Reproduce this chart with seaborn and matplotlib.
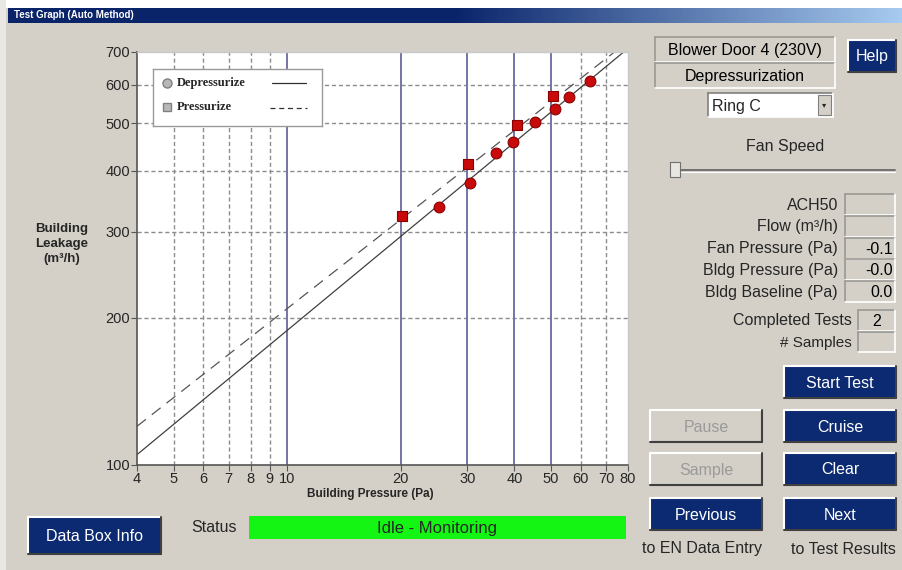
import numpy as np
import pandas as pd
import matplotlib
matplotlib.use("Agg")
import matplotlib.pyplot as plt
from matplotlib.patches import Rectangle
from matplotlib.ticker import NullLocator
import seaborn as sns

# measured points (Pa, m3/h)
depress_pa = [25.2, 30.6, 35.8, 39.6, 45.3, 51.4, 55.7, 63.4]
depress_flow = [337, 378, 434, 457, 504, 536, 565, 611]
press_pa = [20.1, 30.1, 40.6, 50.7]
press_flow = [323, 412, 496, 568]

# fitted lines, end points on log-log axes
fit_pa = [4, 80]
fit_depress = [105, 712]
fit_press = [120, 736]

x_ticks = [4, 5, 6, 7, 8, 9, 10, 20, 30, 40, 50, 60, 70, 80]
y_ticks = [100, 200, 300, 400, 500, 600, 700]
solid_grid = [10, 20, 30, 40, 50]
dash_grid_x = [5, 6, 7, 8, 9, 60, 70]
dash_grid_y = [200, 300, 400, 500, 600]

readouts = ["ACH50", "Flow (m\u00b3/h)", "Fan Pressure (Pa)", "Bldg Pressure (Pa)", "Bldg Baseline (Pa)"]
readout_values = ["", "", "-0.1", "-0.0", "0.0"]

sns.set_theme(style="white")
plt.rcParams["font.family"] = ["Liberation Sans", "DejaVu Sans"]

GRAY = "#d4d0c8"
NAVY = "#0c2a72"
W, H = 902, 570
FS = 11.5

fig = plt.figure(figsize=(W / 100, H / 100), dpi=100, facecolor=GRAY)

# background layer in pixel coordinates
bg = fig.add_axes([0, 0, 1, 1], zorder=0)
bg.set_xlim(0, W)
bg.set_ylim(H, 0)
bg.axis("off")
bg.add_patch(Rectangle((0, 0), W, 8, fc="white", ec="none"))
bg.add_patch(Rectangle((0, 0), 6, H, fc="#eae8e4", ec="none"))
grad = np.linspace(0, 1, 256)[None, :]
cmap = matplotlib.colors.LinearSegmentedColormap.from_list("tb", ["#0a246a", "#0a246a", "#a6caf0"])
bg.imshow(grad, extent=[8, W, 23, 8], aspect="auto", cmap=cmap, zorder=1)
bg.text(14, 15.5, "Test Graph (Auto Method)", color="white", fontsize=7, fontweight="bold",
        va="center", ha="left", zorder=2)


def bevel(x0, y0, x1, y1, light="white", dark="#404040", lw=1.5):
    bg.plot([x0, x1], [y0, y0], color=light, lw=lw, zorder=3)
    bg.plot([x0, x0], [y0, y1], color=light, lw=lw, zorder=3)
    bg.plot([x0, x1], [y1, y1], color=dark, lw=lw, zorder=3)
    bg.plot([x1, x1], [y0, y1], color=dark, lw=lw, zorder=3)


def button(x0, y0, x1, y1, label, enabled=True, size=FS):
    bg.add_patch(Rectangle((x0, y0), x1 - x0, y1 - y0, fc=NAVY if enabled else GRAY, ec="none", zorder=2))
    bevel(x0, y0, x1, y1)
    bg.text((x0 + x1) / 2, (y0 + y1) / 2 + 1, label, color="white" if enabled else "#9a9a9a",
            fontsize=size, ha="center", va="center", zorder=4)


def field(x0, y0, x1, y1, value="", face=GRAY, ha="right", size=FS):
    bg.add_patch(Rectangle((x0, y0), x1 - x0, y1 - y0, fc=face, ec="none", zorder=2))
    bevel(x0, y0, x1, y1, light="#9a9894", dark="white", lw=1.2)
    if value:
        tx = x1 - 2 if ha == "right" else (x0 + x1) / 2
        bg.text(tx, (y0 + y1) / 2 + 1, value, fontsize=size, ha=ha, va="center", color="black", zorder=4)


# right panel
field(655, 37, 835, 62, "Blower Door 4 (230V)", ha="center")
field(655, 63, 835, 88, "Depressurization", ha="center")
button(848, 40, 896, 72, "Help")
bg.add_patch(Rectangle((708, 93), 125, 24, fc="white", ec="none", zorder=2))
bevel(708, 93, 833, 117, light="#808080", dark="white", lw=1.2)
bg.text(712, 106, "Ring C", fontsize=FS, ha="left", va="center", zorder=4)
bg.add_patch(Rectangle((818, 95), 13, 20, fc=GRAY, ec="#808080", lw=0.8, zorder=4))
bg.text(824.5, 106, "\u25be", fontsize=6, ha="center", va="center", zorder=5)
bg.text(785, 146, "Fan Speed", fontsize=FS, ha="center", va="center", zorder=4)
bg.plot([672, 895], [170, 170], color="#606060", lw=1.2, zorder=3)
bg.plot([672, 895], [171.5, 171.5], color="white", lw=0.8, zorder=3)
bg.add_patch(Rectangle((670, 162), 10, 15, fc="#e8e6e0", ec="#707070", lw=0.8, zorder=4))

row_y = [193, 215, 237, 258, 280]
for lab, val, y0 in zip(readouts, readout_values, row_y):
    bg.text(838, y0 + 12, lab, fontsize=FS, ha="right", va="center", zorder=4)
    field(845, y0 + 1, 895, y0 + 22, val)
bg.text(852, 321, "Completed Tests", fontsize=FS, ha="right", va="center", zorder=4)
field(858, 310, 895, 331, "2", ha="center")
bg.text(852, 343, "# Samples", fontsize=FS - 0.5, ha="right", va="center", zorder=4)
field(858, 332, 895, 352)

button(784, 366, 896, 398, "Start Test")
button(650, 410, 762, 442, "Pause", enabled=False)
button(784, 410, 896, 442, "Cruise")
button(650, 453, 762, 485, "Sample", enabled=False)
button(784, 453, 896, 485, "Clear")
button(650, 498, 762, 530, "Previous")
button(784, 498, 896, 530, "Next")
bg.text(702, 549, "to EN Data Entry", fontsize=FS, ha="center", va="center", zorder=4)
bg.text(843, 549, "to Test Results", fontsize=FS, ha="center", va="center", zorder=4)

button(28, 517, 161, 554, "Data Box Info")
bg.text(214, 527, "Status", fontsize=FS, ha="center", va="center", zorder=4)
bg.add_patch(Rectangle((249, 516), 377, 23, fc="#14f514", ec="none", zorder=2))
bg.text(437, 528, "Idle - Monitoring", fontsize=FS + 0.5, ha="center", va="center", zorder=4)

# main graph
ax = fig.add_axes([137 / W, 1 - 465 / H, 491 / W, 413 / H], zorder=2)
ax.set_facecolor("white")
ax.set_xscale("log")
ax.set_yscale("log")
ax.set_xlim(4, 80)
ax.set_ylim(100, 700)

for v in dash_grid_x:
    ax.axvline(v, color="#8c8c8c", lw=1, ls=(0, (3, 2)), zorder=1)
for v in dash_grid_y:
    ax.axhline(v, color="#8c8c8c", lw=1, ls=(0, (3, 2)), zorder=1)
for v in solid_grid:
    ax.axvline(v, color="#7474a8", lw=1.4, zorder=1)

sns.lineplot(x=fit_pa, y=fit_depress, ax=ax, color="#404040", lw=0.9, zorder=2)
sns.lineplot(x=fit_pa, y=fit_press, ax=ax, color="#555555", lw=0.9, zorder=2)
ax.lines[-1].set_linestyle((0, (9, 6)))

dep = pd.DataFrame({"pa": depress_pa, "flow": depress_flow})
pre = pd.DataFrame({"pa": press_pa, "flow": press_flow})
sns.scatterplot(data=dep, x="pa", y="flow", marker="o", color="#c80a0a", edgecolor="#8a0000",
                linewidth=0.8, s=60, ax=ax, zorder=3)
sns.scatterplot(data=pre, x="pa", y="flow", marker="s", color="#c80a0a", edgecolor="#8a0000",
                linewidth=0.8, s=50, ax=ax, zorder=3)

ax.set_xticks(x_ticks)
ax.set_xticklabels([str(t) for t in x_ticks])
ax.set_yticks(y_ticks)
ax.set_yticklabels([str(t) for t in y_ticks])
ax.xaxis.set_minor_locator(NullLocator())
ax.yaxis.set_minor_locator(NullLocator())
ax.tick_params(axis="both", which="major", labelsize=10.5, length=4, width=0.8,
               color="#555555", direction="out", pad=1, bottom=True, left=True)
for name, sp in ax.spines.items():
    sp.set_color("#555555" if name in ("left", "bottom") else "#c8c8c8")
    sp.set_linewidth(1.2 if name in ("left", "bottom") else 1)
ax.set_xlabel("")
ax.set_ylabel("")
bg.text(370, 494, "Building Pressure (Pa)", fontsize=8.5, fontweight="bold",
        ha="center", va="center", zorder=4)
bg.text(62, 244, "Building\nLeakage\n(m\u00b3/h)", fontsize=9.5, fontweight="bold",
        ha="center", va="center", linespacing=1.3, zorder=4)

# legend box
lg = fig.add_axes([153 / W, 1 - 126 / H, 169 / W, 57 / H], zorder=3)
lg.set_xlim(153, 322)
lg.set_ylim(126, 69)
lg.set_xticks([])
lg.set_yticks([])
lg.set_facecolor("white")
for sp in lg.spines.values():
    sp.set_color("#9a9a9a")
    sp.set_linewidth(1)
lg.plot([167], [83], marker="o", ms=6.5, mfc="#b8b8b8", mec="#808080", ls="none")
lg.plot([167], [107], marker="s", ms=6, mfc="#b8b8b8", mec="#808080", ls="none")
lg.text(177, 83, "Depressurize", fontsize=9, fontweight="bold", family=["Liberation Serif"], va="center")
lg.text(177, 107, "Pressurize", fontsize=9, fontweight="bold", family=["Liberation Serif"], va="center")
lg.plot([272, 306], [83, 83], color="#303030", lw=0.9)
lg.plot([270, 307], [108, 108], color="#303030", lw=0.9, ls=(0, (4, 3)))

fig.savefig("out.png", dpi=100, facecolor=GRAY)
